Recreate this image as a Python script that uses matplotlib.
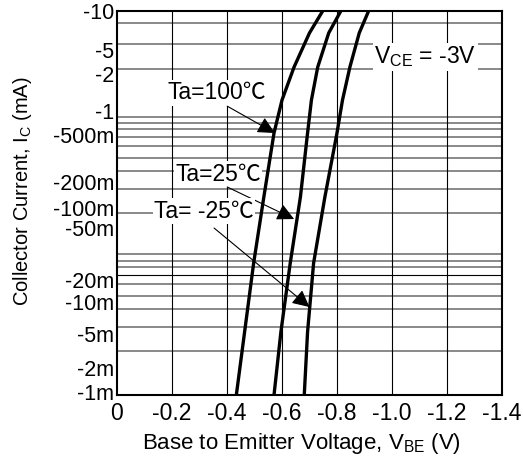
import matplotlib
matplotlib.use("Agg")
import matplotlib.pyplot as plt

plt.rcParams['font.family'] = ['Liberation Sans', 'Noto Sans CJK JP', 'DejaVu Sans']
plt.rcParams['mathtext.fontset'] = 'custom'
plt.rcParams['mathtext.rm'] = 'Liberation Sans'

# ---- data (magnitudes; labels carry the minus sign) ----
ic_ma = [10, 5.91, 2.61, 1.18, 0.536, 0.1155, 0.0237, 0.00453, 0.001]
vbe_100 = [0.748, 0.700, 0.644, 0.600, 0.571, 0.534, 0.497, 0.464, 0.434]
vbe_25 = [0.814, 0.770, 0.730, 0.707, 0.693, 0.667, 0.630, 0.596, 0.571]
vbe_m25 = [0.915, 0.881, 0.847, 0.820, 0.800, 0.756, 0.715, 0.693, 0.681]

xtick_vals = [0, 0.2, 0.4, 0.6, 0.8, 1.0, 1.2, 1.4]
xtick_labels = ['0', '-0.2', '-0.4', '-0.6', '-0.8', '-1.0', '-1.2', '-1.4']
ytick_vals = [10, 3.93, 2.21, 0.908, 0.511, 0.1656, 0.0887, 0.0549,
              0.01578, 0.00931, 0.00432, 0.00191, 0.00107]
ytick_labels = ['-10', '-5', '-2', '-1', '-500m', '-200m', '-100m', '-50m',
                '-20m', '-10m', '-5m', '-2m', '-1m']
hgrid_vals = [7.45, 4.50, 2.49, 0.792, 0.686, 0.594, 0.491, 0.393, 0.292,
              0.215, 0.140, 0.0792, 0.0292, 0.0251, 0.0217, 0.0178, 0.0142,
              0.0107, 0.00792, 0.00511, 0.00287]
vgrid_vals = [0.2, 0.4, 0.6, 0.8, 1.0, 1.2]

fig = plt.figure(figsize=(5.23, 4.59), dpi=100)
ax = fig.add_axes([0.2237, 0.1394, 0.9598 - 0.2237, 0.976 - 0.1394])
ax.set_yscale('log')
ax.set_xlim(0, 1.4)
ax.set_ylim(0.001, 10)

for v in hgrid_vals:
    col = 'black' if abs(v - 0.0178) < 1e-6 else '#808080'
    lw = 0.8 if col == 'black' else 1.3
    ax.axhline(v, color=col, lw=lw, zorder=1)
for v in vgrid_vals:
    ax.axvline(v, color='black', lw=0.8, zorder=1)

for vs in (vbe_100, vbe_25, vbe_m25):
    ax.plot(vs, ic_ma, color='black', lw=2.4, zorder=4, solid_capstyle='butt')

ax.set_xticks(xtick_vals)
ax.set_xticklabels(xtick_labels)
ax.set_yticks(ytick_vals)
ax.set_yticklabels(ytick_labels)
ax.yaxis.set_minor_locator(matplotlib.ticker.NullLocator())
ax.tick_params(axis='both', length=0, labelsize=15.5)
ax.tick_params(axis='x', labelsize=16.5, pad=5)
ax.tick_params(axis='y', pad=2)
for s in ax.spines.values():
    s.set_linewidth(1.5)
    s.set_zorder(6)

ax.set_xlabel(r'Base to Emitter Voltage, V$_{\mathregular{BE}}$ (V)', fontsize=16)
ax.xaxis.set_label_coords(0.478, -0.093)
ax.set_ylabel(r'Collector Current, I$_{\mathregular{C}}$ (mA)', fontsize=14.5)
ax.yaxis.set_label_coords(-0.215, 0.53)

bb = dict(facecolor='white', edgecolor='none', pad=1.0)
arrow = dict(arrowstyle='-|>', color='black', lw=0.8, mutation_scale=26,
             shrinkA=0, shrinkB=0)

ax.text(0.364, 1.40, 'Ta=100℃', fontsize=16.5, ha='center', va='center', bbox=bb, zorder=5)
ax.annotate('', xy=(0.574, 0.536), xytext=(0.401, 1.02), arrowprops=arrow, zorder=5)

ax.text(0.368, 0.200, 'Ta=25℃', fontsize=16.5, ha='center', va='center', bbox=bb, zorder=5)
ax.annotate('', xy=(0.644, 0.0681), xytext=(0.401, 0.1468), arrowprops=arrow, zorder=5)

ax.text(0.316, 0.0825, 'Ta= -25℃', fontsize=16.5, ha='center', va='center', bbox=bb, zorder=5)
ax.annotate('', xy=(0.700, 0.00825), xytext=(0.353, 0.0549), arrowprops=arrow, zorder=5)

ax.text(1.121, 3.32, r'V$_{\mathregular{CE}}$ = -3V', fontsize=16.5, ha='center', va='center',
        bbox=bb, zorder=5)

fig.savefig('out.png', dpi=100)
